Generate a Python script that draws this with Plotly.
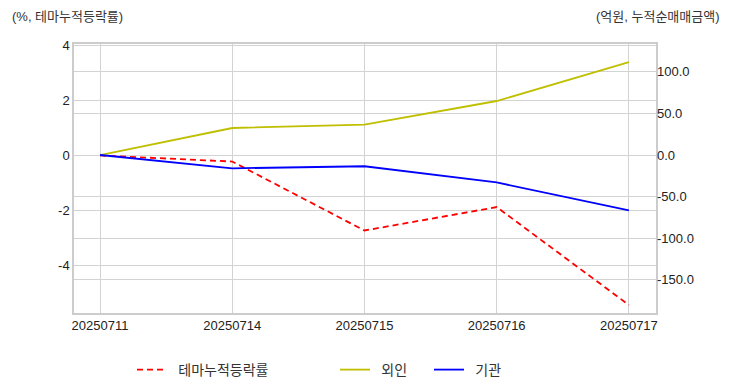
import plotly.graph_objects as go

dates = ["20250711", "20250714", "20250715", "20250716", "20250717"]
theme = [0.0, -0.22, -2.72, -1.87, -5.42]
foreign = [0.0, 32.5, 36.5, 65.0, 111.7]
inst = [0.0, -16.0, -13.5, -33.0, -66.6]
left_ticks = [-4, -2, 0, 2, 4]
left_labels = ["-4", "-2", "0", "2", "4"]
right_ticks = [-150, -100, -50, 0, 50, 100]
right_labels = ["-150.0", "-100.0", "-50.0", "0.0", "50.0", "100.0"]
names = ["테마누적등락률", "외인", "기관"]

# page body has an 8px margin; work in figure coords = page coords - 8
OFF = 8
W, H = 732 - OFF, 392 - OFF
ml, mt = 74 - OFF, 44 - OFF
mr = 732 - 656
mb = 392 - 313
pw, ph = W - ml - mr, H - mt - mb

FONT = "Liberation Sans, Arial, Noto Sans CJK KR, sans-serif"
KFONT = "Noto Sans CJK KR, Liberation Sans, sans-serif"
xi = list(range(len(dates)))
NB = "\u00a0\u00a0"

fig = go.Figure()
fig.add_trace(go.Scatter(x=xi, y=theme, name=NB + names[0], mode="lines",
                         line=dict(color="#ff0000", width=1.8, dash="6px,4px"),
                         yaxis="y", legend="legend"))
fig.add_trace(go.Scatter(x=xi, y=foreign, name=NB + names[1], mode="lines",
                         line=dict(color="#bfbf00", width=1.8),
                         yaxis="y2", legend="legend2"))
fig.add_trace(go.Scatter(x=xi, y=inst, name=NB + names[2], mode="lines",
                         line=dict(color="#0000ff", width=1.8),
                         yaxis="y2", legend="legend2"))

grid = "#d3d3d3"
legend_y = -((370 - OFF) - (H - mb)) / ph
fig.update_layout(
    width=W, height=H,
    margin=dict(l=ml, r=mr, t=mt, b=mb, autoexpand=False),
    paper_bgcolor="white", plot_bgcolor="white",
    font=dict(family=FONT, size=13, color="#333333"),
    xaxis=dict(range=[-0.197, 4.205], tickvals=xi, ticktext=dates,
               showgrid=True, gridcolor=grid, gridwidth=1,
               showline=True, linecolor="#cccccc", linewidth=1.5, mirror=True,
               ticks="", zeroline=False, automargin=False,
               tickfont=dict(size=13, color="#222222")),
    yaxis=dict(range=[-5.71, 4.04], tickvals=left_ticks, ticktext=left_labels,
               showgrid=True, gridcolor=grid, gridwidth=1,
               showline=True, linecolor="#cccccc", linewidth=1.5, mirror=True,
               ticks="", zeroline=False, automargin=False,
               tickfont=dict(size=13, color="#222222")),
    yaxis2=dict(range=[-190.1, 133.6], tickvals=right_ticks, ticktext=right_labels,
                overlaying="y", side="right",
                showgrid=True, gridcolor=grid, gridwidth=1,
                showline=False, ticks="", zeroline=False, automargin=False,
                tickfont=dict(size=13, color="#222222")),
    legend=dict(orientation="h", x=(132 - 74) / pw, xanchor="left",
                y=legend_y, yanchor="middle",
                font=dict(family=KFONT, size=14, color="#333333"),
                bgcolor="rgba(0,0,0,0)"),
    legend2=dict(orientation="h", x=(335 - 74) / pw, xanchor="left",
                 y=legend_y, yanchor="middle",
                 font=dict(family=KFONT, size=14, color="#333333"),
                 bgcolor="rgba(0,0,0,0)", entrywidth=49),
    showlegend=True,
    annotations=[
        dict(text="(%, 테마누적등락률)", xref="paper", yref="paper",
             x=(10 - 74) / pw, y=1 + (44 - 16) / ph, xanchor="left", yanchor="middle",
             showarrow=False, font=dict(size=13, color="#333333")),
        dict(text="(억원, 누적순매매금액)", xref="paper", yref="paper",
             x=(722 - 74) / pw, y=1 + (44 - 16) / ph, xanchor="right", yanchor="middle",
             showarrow=False, font=dict(size=13, color="#333333")),
    ],
)

fig.write_html("out.html")
